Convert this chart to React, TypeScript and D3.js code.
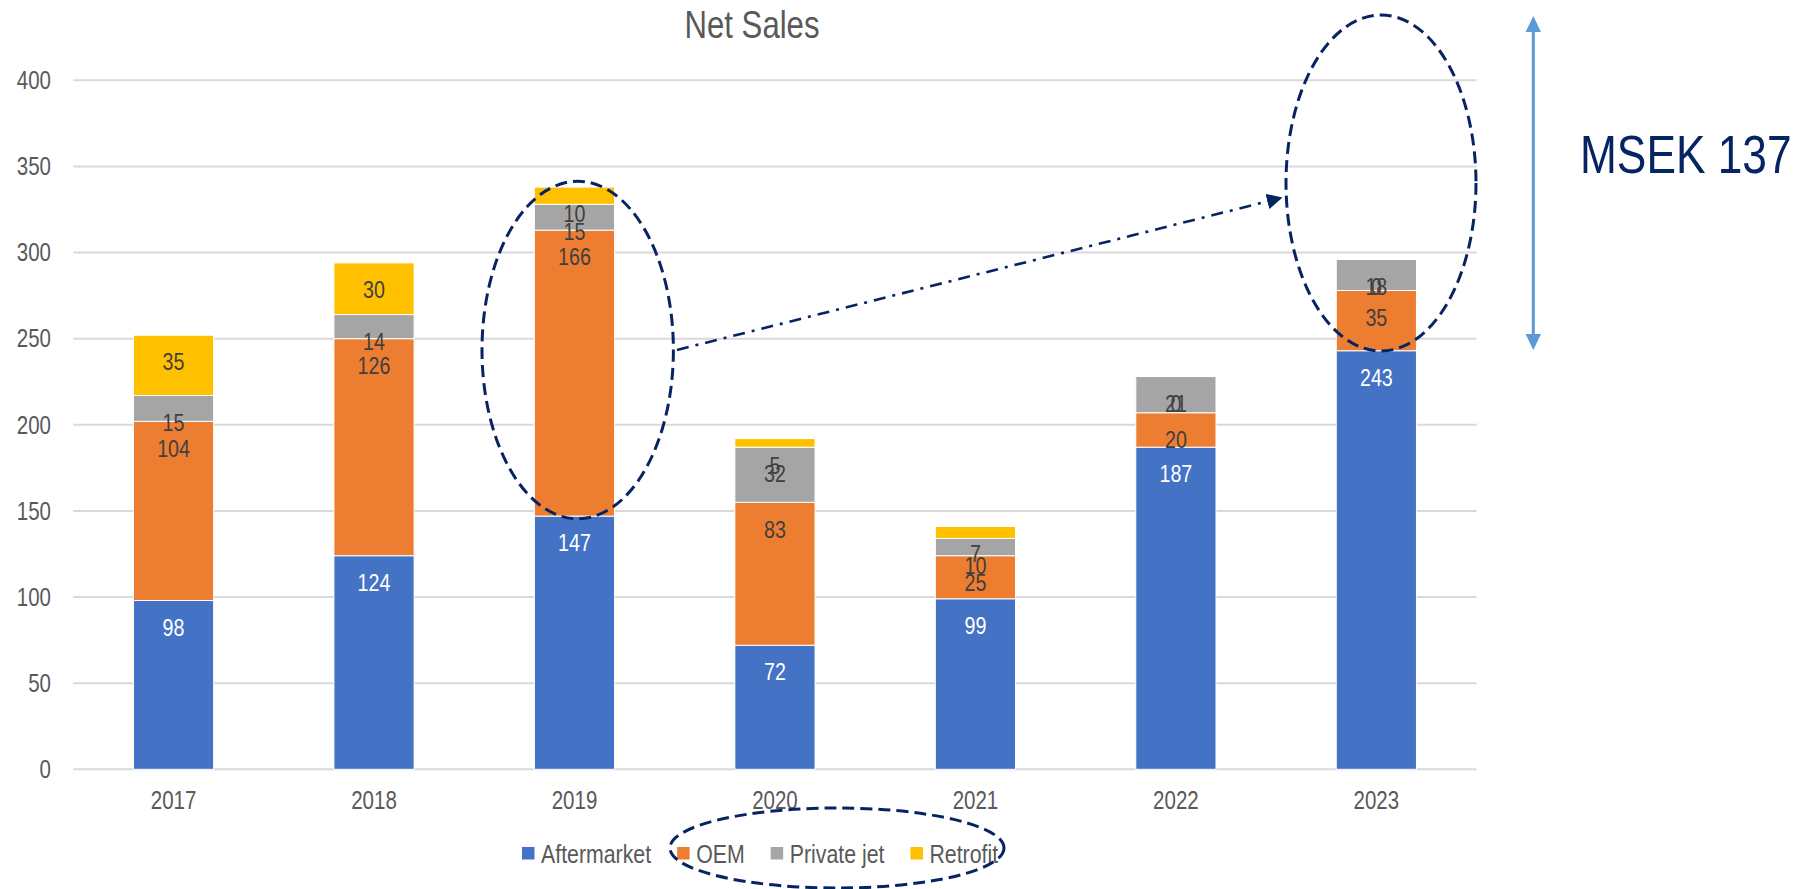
import React, { useEffect, useRef } from "react";
import * as d3 from "d3";

const years = ["2017", "2018", "2019", "2020", "2021", "2022", "2023"];
const aftermarket = [98, 124, 147, 72, 99, 187, 243];
const oem = [104, 126, 166, 83, 25, 20, 35];
const privateJet = [15, 14, 15, 32, 10, 21, 18];
const retrofit = [35, 30, 10, 5, 7, 0, 0];
const seriesNames = ["Aftermarket", "OEM", "Private jet", "Retrofit"];
const seriesColors = ["#4472C4", "#ED7D31", "#A5A5A5", "#FFC000"];
const yTicks = [0, 50, 100, 150, 200, 250, 300, 350, 400];
const title = "Net Sales";
const callout = "MSEK 137";

const W = 1799;
const H = 889;
const FONT = "'Liberation Sans', Arial, sans-serif";
const SX = 0.82;
const NAVY = "#062462";

type NTProps = {
  x: number;
  y: number;
  size: number;
  fill: string;
  anchor?: "start" | "middle" | "end";
  baseline?: string;
  children: React.ReactNode;
};

function NText({ x, y, size, fill, anchor = "start", baseline, children }: NTProps) {
  return (
    <text
      transform={`translate(${x},${y}) scale(${SX},1)`}
      textAnchor={anchor}
      dominantBaseline={baseline}
      fontFamily={FONT}
      fontSize={size}
      fill={fill}
    >
      {children}
    </text>
  );
}

export default function App() {
  const legendRef = useRef<SVGGElement>(null);

  const x = d3.scaleBand<string>().domain(years).range([73.3, 1476.6]).paddingInner(0.6).paddingOuter(0.3);
  const y = d3.scaleLinear().domain([0, 400]).range([769.3, 80.3]);

  const table = years.map((yr, i) => ({
    year: yr,
    Aftermarket: aftermarket[i],
    OEM: oem[i],
    "Private jet": privateJet[i],
    Retrofit: retrofit[i],
  }));
  const stacked = d3.stack<any>().keys(seriesNames)(table);

  useEffect(() => {
    const g = d3.select(legendRef.current);
    g.selectAll("*").remove();
    let cx = 522;
    seriesNames.forEach((name, i) => {
      g.append("rect").attr("x", cx).attr("y", 847).attr("width", 12.5).attr("height", 12.5).attr("fill", seriesColors[i]);
      const t = g
        .append("text")
        .attr("transform", `translate(${cx + 19},853.5) scale(${SX},1)`)
        .attr("dominant-baseline", "central")
        .attr("font-family", FONT)
        .attr("font-size", 26)
        .attr("fill", "#595959")
        .text(name);
      const w = (t.node() as SVGTextElement).getComputedTextLength() * SX;
      cx = cx + 19 + w + 26;
    });
  }, []);

  const line = d3.line();
  const ellipse1 = { cx: 577.7, cy: 350, rx: 95.7, ry: 168.8 };
  const ellipse2 = { cx: 1381, cy: 183, rx: 95, ry: 168 };
  const ellipse3 = { cx: 837, cy: 848, rx: 167, ry: 40 };

  return (
    <svg width={W} height={H} style={{ position: "absolute", left: 0, top: 0, background: "#fff" }}>
      <defs>
        <marker id="navyArrow" viewBox="0 0 10 10" refX="9" refY="5" markerWidth="6" markerHeight="6" markerUnits="strokeWidth" orient="auto">
          <path d="M0,0 L10,5 L0,10 z" fill={NAVY} />
        </marker>
      </defs>
      <NText x={752} y={38} size={38} fill="#595959" anchor="middle">
        {title}
      </NText>
      {yTicks.map((t) => (
        <g key={t}>
          <line x1={73.3} x2={1476.6} y1={y(t)} y2={y(t)} stroke="#D9D9D9" strokeWidth={2} />
          <NText x={51} y={y(t)} size={25} fill="#595959" anchor="end" baseline="central">
            {t}
          </NText>
        </g>
      ))}
      {stacked.map((s, si) => (
        <g key={s.key}>
          {s.map((d, i) => (
            <rect
              key={i}
              x={x(years[i])!}
              width={x.bandwidth()}
              y={y(d[1])}
              height={Math.max(0, y(d[0]) - y(d[1]))}
              fill={seriesColors[si]}
              stroke="#fff"
              strokeWidth={d[1] - d[0] > 0 ? 1 : 0}
            />
          ))}
        </g>
      ))}
      {stacked.map((s, si) => (
        <g key={"l" + s.key}>
          {s.map((d, i) => (
            <NText
              key={i}
              x={x(years[i])! + x.bandwidth() / 2}
              y={y(d[1]) + 27}
              size={24}
              fill={si === 0 ? "#FFFFFF" : "#404040"}
              anchor="middle"
              baseline="central"
            >
              {d[1] - d[0]}
            </NText>
          ))}
        </g>
      ))}
      {years.map((yr) => (
        <NText key={yr} x={x(yr)! + x.bandwidth() / 2} y={800} size={25} fill="#595959" anchor="middle" baseline="central">
          {yr}
        </NText>
      ))}
      <g ref={legendRef} />
      {[ellipse1, ellipse2, ellipse3].map((e, i) => (
        <ellipse key={i} cx={e.cx} cy={e.cy} rx={e.rx} ry={e.ry} fill="none" stroke={NAVY} strokeWidth={3} strokeDasharray="12 6" />
      ))}
      <path
        d={line([[677, 350], [1281, 198]]) || ""}
        fill="none"
        stroke={NAVY}
        strokeWidth={2.6}
        strokeDasharray="12 7 3 7"
        markerEnd="url(#navyArrow)"
      />
      <line x1={1533.3} x2={1533.3} y1={28} y2={338} stroke="#5B9BD5" strokeWidth={3} />
      <path d="M1533.3,16 L1541,32 L1525.6,32 Z" fill="#5B9BD5" />
      <path d="M1533.3,350 L1541,334 L1525.6,334 Z" fill="#5B9BD5" />
      <NText x={1580} y={173} size={54} fill={NAVY}>
        {callout}
      </NText>
    </svg>
  );
}
